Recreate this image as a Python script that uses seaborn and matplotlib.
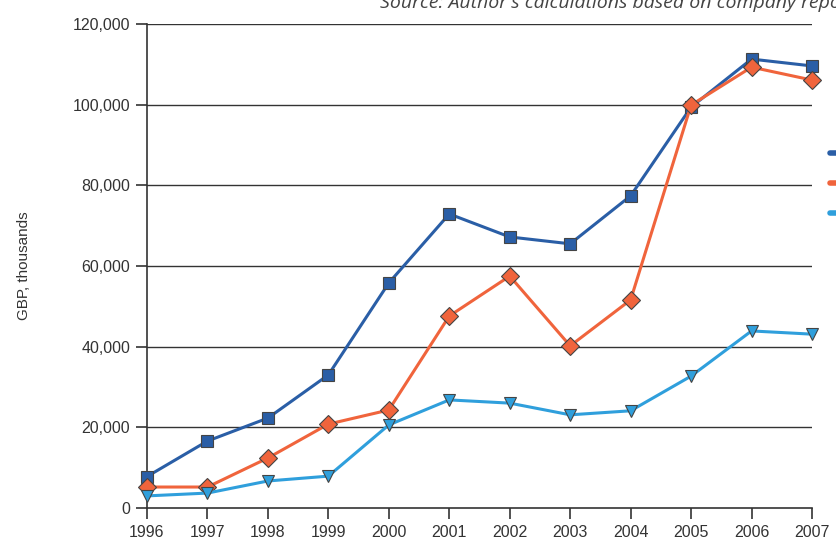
import matplotlib
matplotlib.use("Agg")
import matplotlib.pyplot as plt
import seaborn as sns
import pandas as pd

years = [1996, 1997, 1998, 1999, 2000, 2001, 2002, 2003, 2004, 2005, 2006, 2007]
series_a = [7800, 16600, 22300, 33000, 55800, 72900, 67200, 65500, 77400, 99400, 111300, 109600]
series_b = [5200, 5200, 12400, 20800, 24300, 47600, 57500, 40200, 51600, 99900, 109300, 106100]
series_c = [3000, 3700, 6700, 7900, 20600, 26800, 26000, 23100, 24100, 32700, 43900, 43100]
names = ["Series A", "Series B", "Series C"]
colors = ["#2a5ea6", "#f0643c", "#2f9fdc"]
markers = ["s", "D", "v"]
y_ticks = [0, 20000, 40000, 60000, 80000, 100000, 120000]

df = pd.DataFrame({
    "year": years * 3,
    "value": series_a + series_b + series_c,
    "series": [names[0]] * 12 + [names[1]] * 12 + [names[2]] * 12,
})

sns.set_theme(style="white")
plt.rcParams["font.family"] = ["Liberation Sans", "DejaVu Sans"]

fig = plt.figure(figsize=(8.36, 5.47), dpi=100)
ax = fig.add_axes([147 / 836, 1 - 508 / 547, (812 - 147) / 836, (508 - 24) / 547])

for yv in y_ticks[1:]:
    ax.axhline(yv, color="#333333", lw=1.0, zorder=1)

sns.lineplot(data=df, x="year", y="value", hue="series", style="series",
             palette=dict(zip(names, colors)), markers=dict(zip(names, markers)),
             dashes=False, lw=2.2, markersize=9, markeredgecolor="#444444",
             markeredgewidth=0.8, ax=ax, zorder=3, clip_on=False)

ax.get_legend().remove()

ax.set_xlim(1996, 2007)
ax.set_ylim(0, 120000)
ax.set_xticks(years)
ax.set_xticklabels([str(y) for y in years])
ax.set_yticks(y_ticks)
ax.set_yticklabels([f"{v:,}" for v in y_ticks])
ax.set_xlabel("")
ax.set_ylabel("GBP, thousands", fontsize=11, color="#333333", labelpad=30)

for s in ["top", "right"]:
    ax.spines[s].set_visible(False)
for s in ["left", "bottom"]:
    ax.spines[s].set_color("#333333")
    ax.spines[s].set_linewidth(1.2)
ax.tick_params(axis="both", which="major", direction="out", length=8, width=1.2,
               color="#333333", labelsize=11.5, labelcolor="#333333", pad=4,
               left=True, bottom=True)

leg_handles = [plt.Line2D([], [], color=c, lw=4) for c in colors]
fig.legend(leg_handles, names, loc="upper left",
           bbox_to_anchor=(830 / 836, 1 - 147 / 547), frameon=False,
           handlelength=2.0, labelspacing=1.05, fontsize=11, borderpad=0,
           borderaxespad=0, handletextpad=0.5)

fig.text(380 / 836, 1 - 8 / 547, "Source: Author's calculations based on company reports",
         fontsize=14, style="italic", color="#444444", ha="left", va="baseline",
         family=["Open Sans", "DejaVu Sans"])

fig.savefig("out.png", dpi=100)
